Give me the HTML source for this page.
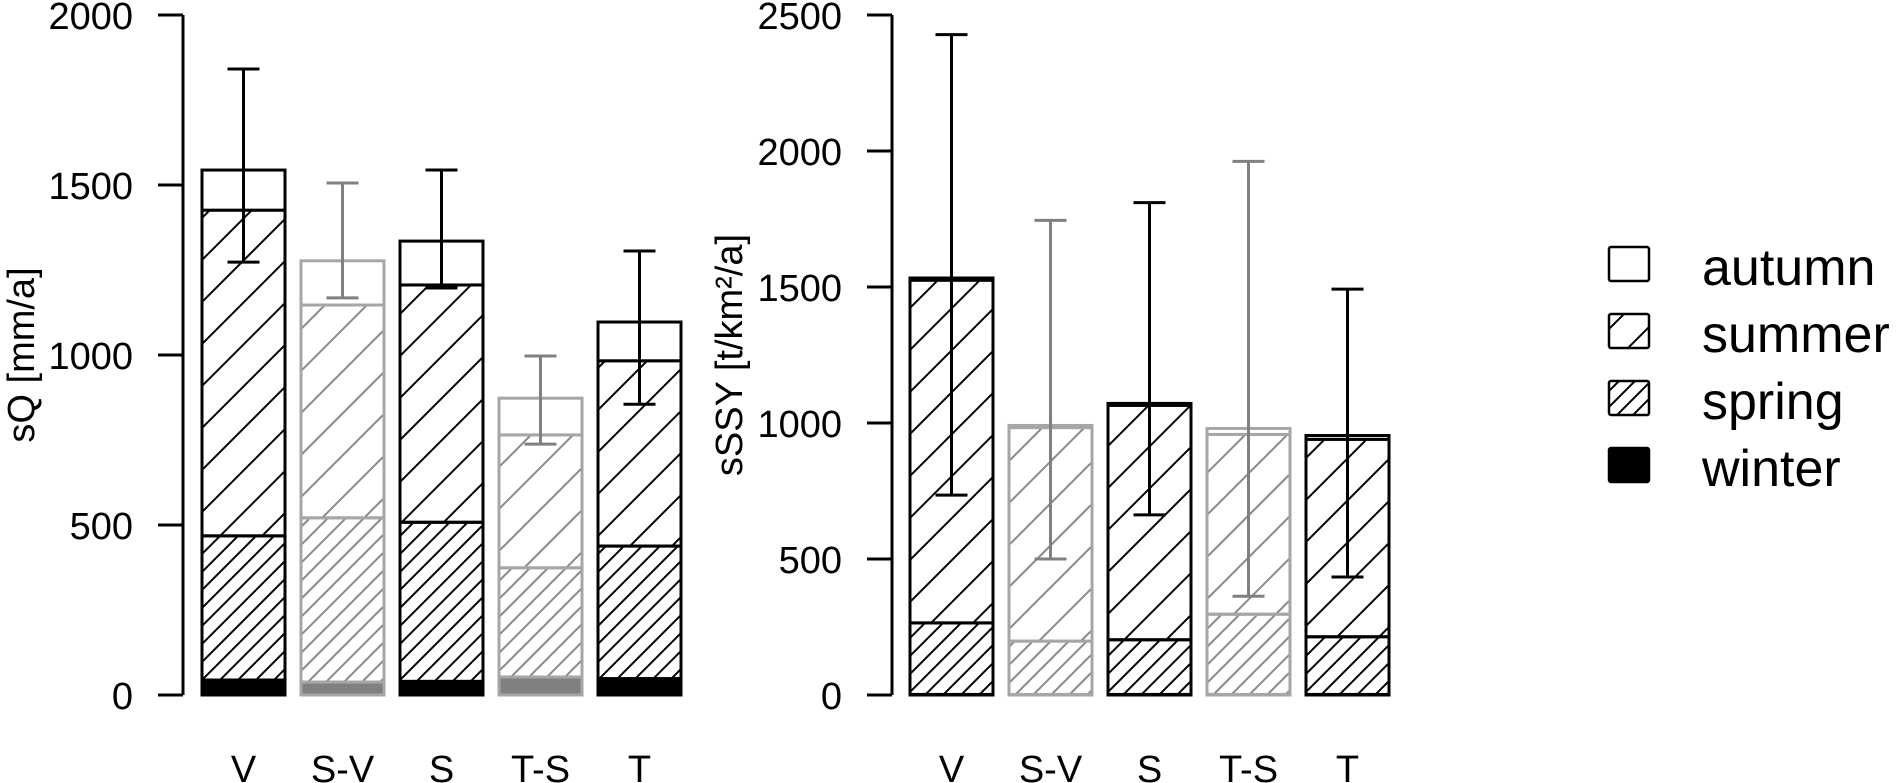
<!DOCTYPE html>
<html><head><meta charset="utf-8">
<style>
html,body{margin:0;padding:0;background:#fff;}
svg{display:block;font-family:"Liberation Sans",Arial,sans-serif;}
</style></head>
<body>
<svg id="chart" width="1904" height="783" viewBox="0 0 1904 783" xmlns="http://www.w3.org/2000/svg">
<defs>
  <pattern id="springB" patternUnits="userSpaceOnUse" width="18" height="18"><path d="M-2,2 L2,-2 M0,18 L18,0 M16,20 L20,16" stroke="#000" stroke-width="2"/></pattern>
  <pattern id="summerB" patternUnits="userSpaceOnUse" width="42" height="42"><path d="M-2,2 L2,-2 M0,42 L42,0 M40,44 L44,40" stroke="#000" stroke-width="2"/></pattern>
  <pattern id="springG" patternUnits="userSpaceOnUse" width="18" height="18"><path d="M-2,2 L2,-2 M0,18 L18,0 M16,20 L20,16" stroke="#888" stroke-width="2"/></pattern>
  <pattern id="summerG" patternUnits="userSpaceOnUse" width="42" height="42"><path d="M-2,2 L2,-2 M0,42 L42,0 M40,44 L44,40" stroke="#888" stroke-width="2"/></pattern>
  <pattern id="springL" patternUnits="userSpaceOnUse" width="16" height="16"><path d="M-2,2 L2,-2 M0,16 L16,0 M14,18 L18,14" stroke="#000" stroke-width="2"/></pattern>
  <pattern id="summerL" patternUnits="userSpaceOnUse" width="38" height="38"><path d="M-2,2 L2,-2 M0,38 L38,0 M36,40 L40,36" stroke="#000" stroke-width="2"/></pattern>
</defs>
<g id="left"></g>
<g id="right"></g>
<text x="34" y="355" font-size="38" text-anchor="middle" transform="rotate(-90 34 355)">sQ [mm/a]</text>
<text x="742" y="355" font-size="38" text-anchor="middle" transform="rotate(-90 742 355)">sSSY [t/km²/a]</text>
<g>
  <g><rect x="1609" y="247" width="40" height="34" rx="2" fill="#fff" stroke="#000" stroke-width="2.5"/><text x="1702" y="285" font-size="52">autumn</text></g>
  <g><rect x="1609" y="314" width="40" height="34" rx="2" fill="url(#summerL)" stroke="#000" stroke-width="2.5"/><text x="1702" y="352" font-size="52">summer</text></g>
  <g><rect x="1609" y="381" width="40" height="34" rx="2" fill="url(#springL)" stroke="#000" stroke-width="2.5"/><text x="1702" y="419" font-size="52">spring</text></g>
  <g><rect x="1609" y="448" width="40" height="34" rx="2" fill="#000" stroke="#000" stroke-width="2.5"/><text x="1702" y="486" font-size="52">winter</text></g>
</g>
</svg>
<script>
const categories = ["V","S-V","S","T-S","T"];
const grayBars = [false,true,false,true,false];
// left panel sQ [mm/a]
const qWinter = [44,38,40,53,48];
const qSpring = [424,483,468,321,390];
const qSummer = [958,626,698,391,545];
const qAutumn = [118,130,129,108,114];
const qErrLow = [1273,1168,1197,738,855];
const qErrHigh = [1841,1506,1544,997,1306];
const qTicks = [0,500,1000,1500,2000];
// right panel sSSY [t/km2/a]
const sWinter = [2,2,2,2,2];
const sSpring = [263,196,201,295,212];
const sSummer = [1260,785,862,661,726];
const sAutumn = [8,8,7,22,14];
const sErrLow = [735,500,662,363,434];
const sErrHigh = [2428,1745,1810,1962,1492];
const sTicks = [0,500,1000,1500,2000,2500];

const NS="http://www.w3.org/2000/svg";
function mk(tag,attrs,parent){const e=document.createElementNS(NS,tag);for(const k in attrs)e.setAttribute(k,attrs[k]);parent.appendChild(e);return e;}

function panel(g,axisX,firstBar,yMax,ticks,seasons,errLo,errHi){
  const y0=695, yTop=15;
  const y=v=>y0-(v/yMax)*(y0-yTop);
  const pitch=99, bw=83;
  const ax=mk('line',{x1:axisX,x2:axisX,y1:y(ticks[ticks.length-1]),y2:y0,stroke:'#000','stroke-width':3},g);
  
  
  ticks.forEach(t=>{
    const tk=mk('line',{x1:axisX-25,x2:axisX,y1:y(t),y2:y(t),stroke:'#000','stroke-width':3},g);
    
    
    const tl=mk('text',{x:axisX-50,y:y(t)+14,'font-size':38,'text-anchor':'end'},g);
    tl.textContent=t;
    
    
  });
  categories.forEach((c,i)=>{
    const x=firstBar+i*pitch, gray=grayBars[i];
    const stroke=gray?'#a6a6a6':'#000';
    const fills=gray?['#808080','url(#springG)','url(#summerG)','#fff']:['#000','url(#springB)','url(#summerB)','#fff'];
    const names=['winter','spring','summer','autumn'];
    let base=0;
    seasons.forEach((arr,s)=>{
      const v=arr[i];
      const r=mk('rect',{x:x,y:y(base+v),width:bw,height:y(base)-y(base+v),fill:fills[s],stroke:stroke,'stroke-width':3},g);
      
      
      base+=v;
    });
    const ec=gray?'#808080':'#000', cx=x+bw/2;
    const el=mk('path',{d:`M${cx},${y(errLo[i])}V${y(errHi[i])}M${cx-16},${y(errHi[i])}H${cx+16}M${cx-16},${y(errLo[i])}H${cx+16}`,stroke:ec,'stroke-width':3,fill:'none'},g);
    
    
    const lb=mk('text',{x:cx,y:782,'font-size':38,'text-anchor':'middle'},g);
    lb.textContent=c;
    
    
  });
}
panel(document.getElementById('left'),183,202,2000,qTicks,[qWinter,qSpring,qSummer,qAutumn],qErrLow,qErrHigh);
panel(document.getElementById('right'),892,910,2500,sTicks,[sWinter,sSpring,sSummer,sAutumn],sErrLow,sErrHigh);
</script>
</body></html>
